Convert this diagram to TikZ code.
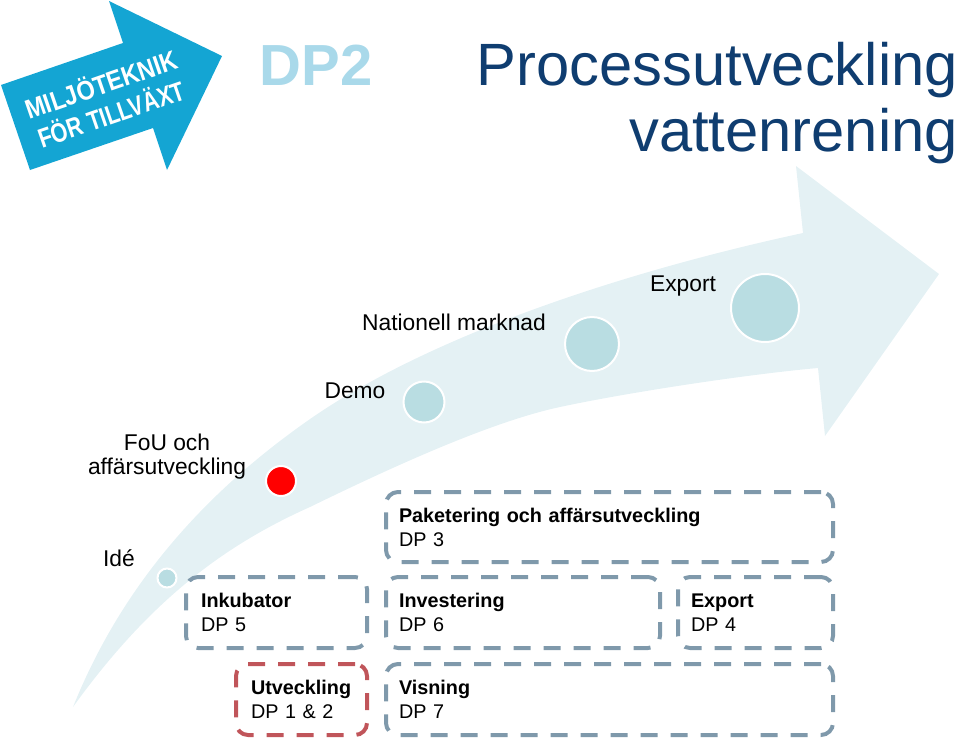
\documentclass[tikz,border=0pt]{standalone}
\usepackage{fontspec}
\setmainfont{Liberation Sans}
\usetikzlibrary{positioning}
\definecolor{logoblue}{HTML}{14A5D3}
\definecolor{dpblue}{HTML}{A9D9EA}
\definecolor{titleblue}{HTML}{0F3D70}
\definecolor{pathblue}{HTML}{E4F1F4}
\definecolor{stepblue}{HTML}{B9DDE2}
\definecolor{dashblue}{HTML}{7F99AB}
\definecolor{dashred}{HTML}{C0555A}
\begin{document}
\begin{tikzpicture}[x=1pt, y=-1pt, node distance=15pt,
  milestone/.style={circle, draw=white, line width=2pt, fill=stepblue, inner sep=0pt},
  label/.style={font=\fontsize{22.8}{24}\selectfont, text=black, align=center, inner sep=0pt},
  dpbox/.style={draw=dashblue, line width=4pt, dash pattern=on 17pt off 13pt, rounded corners=12pt,
    inner xsep=13pt, inner ysep=0pt, outer sep=0pt, align=left, font=\fontsize{19.8}{24}\selectfont, text=black,
    execute at begin node=\rule{0pt}{22pt}, execute at end node=\strut},
  logotext/.style={font=\fontsize{27}{27}\bfseries\selectfont, text=white, rotate=19, inner sep=0pt}]
  \useasboundingbox (0,0) rectangle (959,739);

  % Arrows
  \fill[pathblue] (73,707) .. controls (120,590) and (200,495) .. (313,417)
    .. controls (440,330) and (640,268) .. (803,233)
    -- (796,166) -- (939,274) -- (825,436) -- (818,368)
    .. controls (750,374) and (630,392) .. (560,407)
    .. controls (490,422) and (390,468) .. (310,507)
    .. controls (225,545) and (150,600) .. (73,707) -- cycle;
  \fill[logoblue] (1,85) -- (123,43) -- (109,1) -- (222,56) -- (167,170) -- (153,128) -- (30,170) -- cycle;

  % Title
  \node[logotext] (logo1) at (101,83) {\scalebox{.87}[1]{MILJÖTEKNIK}};
  \node[logotext] (logo2) at (111,113) {\scalebox{.8}[1]{FÖR TILLVÄXT}};
  \node[font=\fontsize{58}{58}\bfseries\selectfont, text=dpblue, inner sep=0pt] (dp) at (316,65) {DP2};
  \node[font=\fontsize{59.7}{66}\selectfont, text=titleblue, align=right, inner sep=0pt, anchor=north east] (title) at (958,42) {Processutveckling\\vattenrening};

  % Milestones
  \node[milestone, minimum size=19pt] (ide) at (167,578) {};
  \node[milestone, minimum size=30pt, fill=red] (fou) at (281,481) {};
  \node[milestone, minimum size=41pt] (demo) at (424,402) {};
  \node[milestone, minimum size=54pt] (nat) at (592,344) {};
  \node[milestone, minimum size=68pt] (exp) at (765,308) {};

  \node[label] (idelabel) at (119,558) {Idé};
  \node[label] (foulabel) at (167,457) {FoU och\\affärsutveckling};
  \node[label] (demolabel) at (355,391) {Demo};
  \node[label] (natlabel) at (454,322) {Nationell marknad};
  \node[label] (explabel) at (683,286) {Export};

  % Boxes
  \node[dpbox, inner xsep=15pt, anchor=north west, minimum height=71pt, text width=151pt] (inkubator) at (186,577) {\textbf{Inkubator}\\DP 5};
  \node[dpbox, right=19pt of inkubator, minimum height=71pt, text width=248pt] (investering) {\textbf{Investering}\\DP 6};
  \node[dpbox, right=18pt of investering, minimum height=71pt, text width=129pt] (export) {\textbf{Export}\\DP 4};
  \node[dpbox, above=15pt of investering.north west, anchor=south west, minimum height=70pt, text width=421pt] (paketering) {\textbf{Paketering och affärsutveckling}\\DP 3};
  \node[dpbox, below=16pt of investering.south west, anchor=north west, minimum height=71pt, text width=421pt] (visning) {\textbf{Visning}\\DP 7};
  \node[dpbox, inner xsep=15pt, draw=dashred, below=16pt of inkubator.south east, anchor=north east, minimum height=71pt, text width=101pt] (utveckling) {\textbf{Utveckling}\\DP 1 \& 2};
\end{tikzpicture}
\end{document}
